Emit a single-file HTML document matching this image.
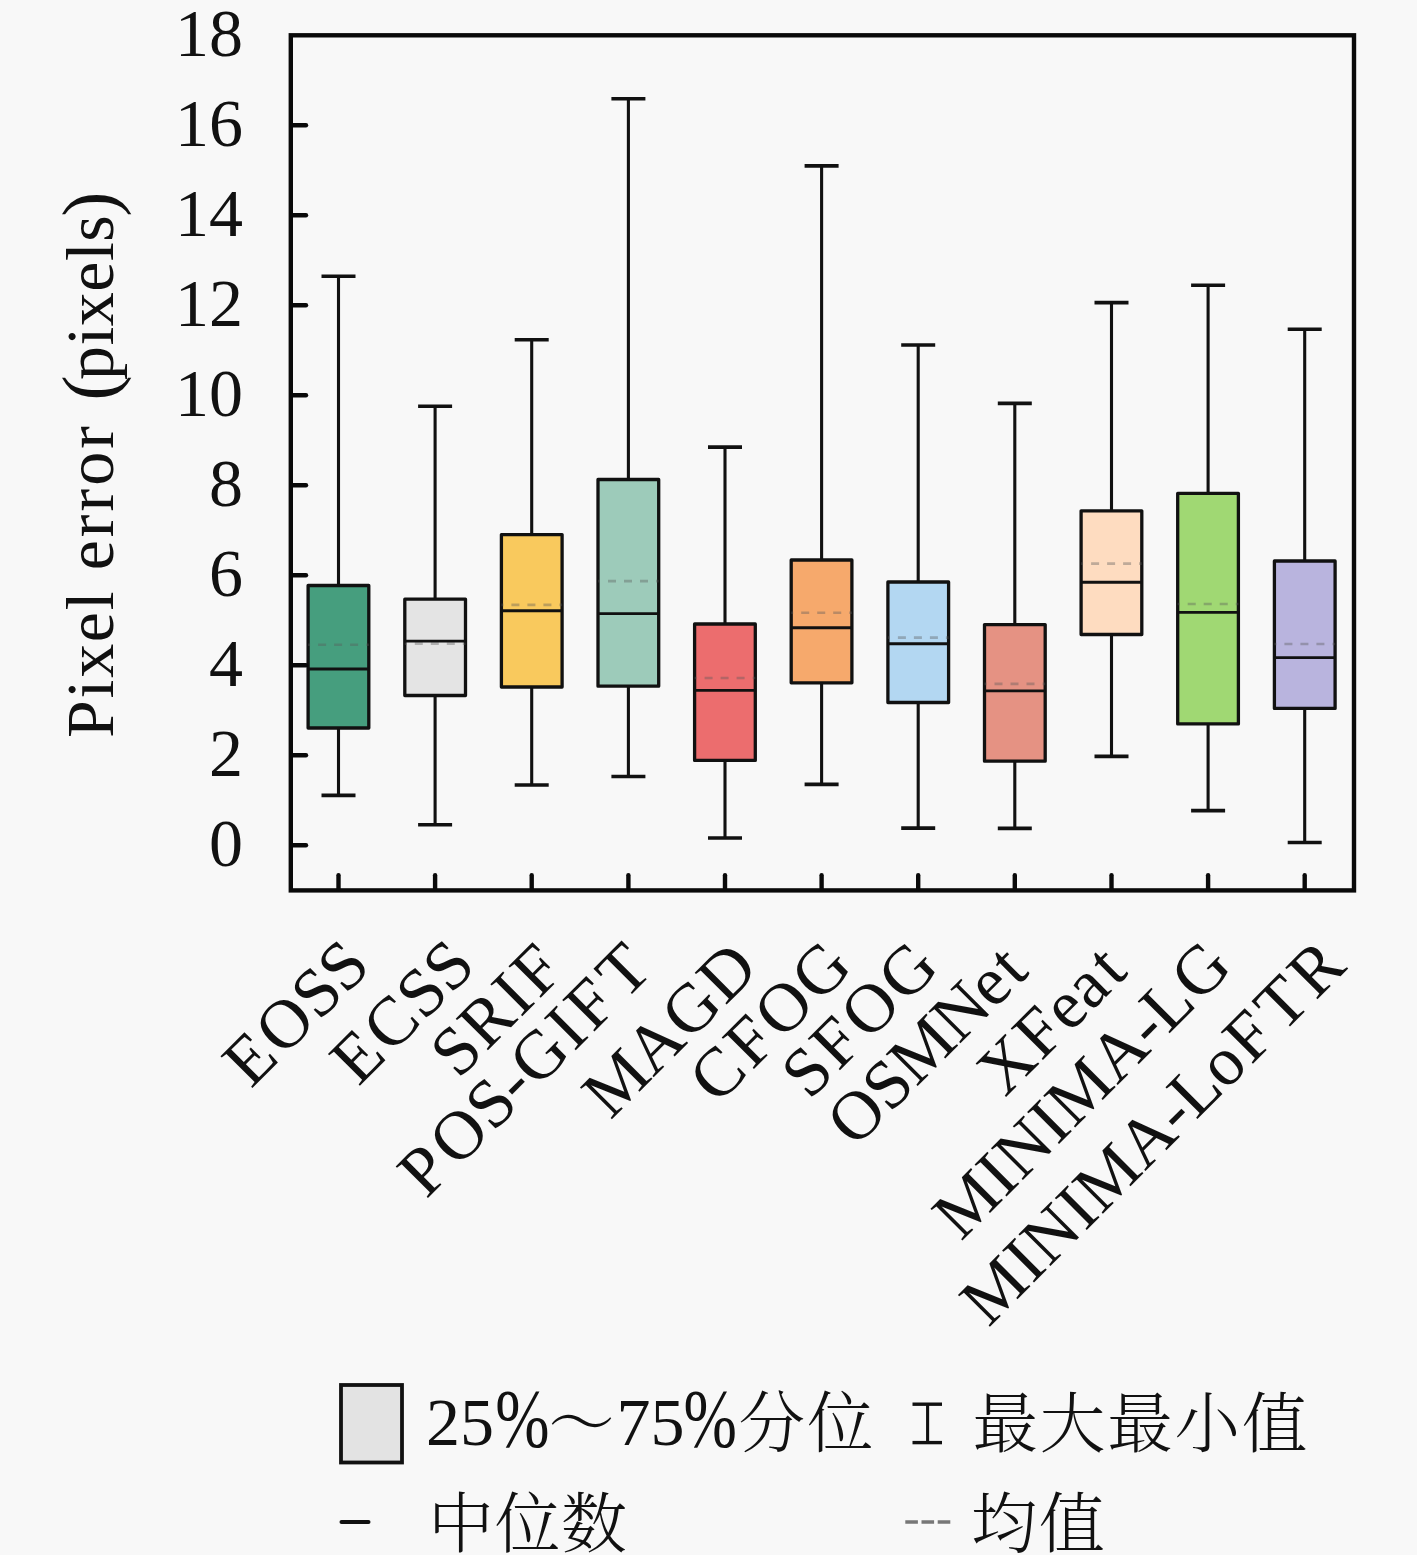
<!DOCTYPE html>
<html lang="zh"><head><meta charset="utf-8"><title>Pixel error box plot</title>
<style>
html,body{margin:0;padding:0;background:#f8f8f8;}
body{width:1417px;height:1555px;overflow:hidden;}
svg{display:block;}
text{font-family:"Liberation Serif","Noto Serif CJK SC",serif;fill:#111;}
.cjk{font-family:"Noto Serif CJK SC","Liberation Serif",serif;font-weight:300;}
</style></head><body>
<svg width="1417" height="1555" viewBox="0 0 1417 1555">
<rect x="0" y="0" width="1417" height="1555" fill="#f8f8f8"/>
<g>
<line x1="338.5" y1="276.3" x2="338.5" y2="585.5" stroke="#111" stroke-width="3.1"/>
<line x1="338.5" y1="728.0" x2="338.5" y2="795.4" stroke="#111" stroke-width="3.1"/>
<line x1="321.5" y1="276.3" x2="355.5" y2="276.3" stroke="#111" stroke-width="3.6"/>
<line x1="321.5" y1="795.4" x2="355.5" y2="795.4" stroke="#111" stroke-width="3.6"/>
<rect x="308.1" y="585.5" width="60.7" height="142.5" fill="#469e7e" stroke="#111" stroke-width="3.3" stroke-linejoin="round"/>
<line x1="308.1" y1="644.7" x2="368.8" y2="644.7" stroke="#5a5a5a" stroke-opacity="0.38" stroke-width="2.6" stroke-dasharray="8 8" stroke-dashoffset="-10"/>
<line x1="308.1" y1="669.0" x2="368.8" y2="669.0" stroke="#111" stroke-width="2.9"/>
</g>
<g>
<line x1="435.1" y1="406.2" x2="435.1" y2="599.2" stroke="#111" stroke-width="3.1"/>
<line x1="435.1" y1="695.5" x2="435.1" y2="824.7" stroke="#111" stroke-width="3.1"/>
<line x1="418.1" y1="406.2" x2="452.1" y2="406.2" stroke="#111" stroke-width="3.6"/>
<line x1="418.1" y1="824.7" x2="452.1" y2="824.7" stroke="#111" stroke-width="3.6"/>
<rect x="404.8" y="599.2" width="60.7" height="96.3" fill="#e4e4e4" stroke="#111" stroke-width="3.3" stroke-linejoin="round"/>
<line x1="404.8" y1="643.6" x2="465.5" y2="643.6" stroke="#5a5a5a" stroke-opacity="0.38" stroke-width="2.6" stroke-dasharray="8 8" stroke-dashoffset="-10"/>
<line x1="404.8" y1="641.1" x2="465.5" y2="641.1" stroke="#111" stroke-width="2.9"/>
</g>
<g>
<line x1="531.7" y1="339.8" x2="531.7" y2="534.6" stroke="#111" stroke-width="3.1"/>
<line x1="531.7" y1="687.0" x2="531.7" y2="785.0" stroke="#111" stroke-width="3.1"/>
<line x1="514.7" y1="339.8" x2="548.7" y2="339.8" stroke="#111" stroke-width="3.6"/>
<line x1="514.7" y1="785.0" x2="548.7" y2="785.0" stroke="#111" stroke-width="3.6"/>
<rect x="501.4" y="534.6" width="60.7" height="152.4" fill="#f9c95d" stroke="#111" stroke-width="3.3" stroke-linejoin="round"/>
<line x1="501.4" y1="604.9" x2="562.1" y2="604.9" stroke="#5a5a5a" stroke-opacity="0.38" stroke-width="2.6" stroke-dasharray="8 8" stroke-dashoffset="-10"/>
<line x1="501.4" y1="610.8" x2="562.1" y2="610.8" stroke="#111" stroke-width="2.9"/>
</g>
<g>
<line x1="628.4" y1="98.8" x2="628.4" y2="479.5" stroke="#111" stroke-width="3.1"/>
<line x1="628.4" y1="686.2" x2="628.4" y2="776.5" stroke="#111" stroke-width="3.1"/>
<line x1="611.4" y1="98.8" x2="645.4" y2="98.8" stroke="#111" stroke-width="3.6"/>
<line x1="611.4" y1="776.5" x2="645.4" y2="776.5" stroke="#111" stroke-width="3.6"/>
<rect x="598.0" y="479.5" width="60.7" height="206.7" fill="#9dcbba" stroke="#111" stroke-width="3.3" stroke-linejoin="round"/>
<line x1="598.0" y1="581.1" x2="658.7" y2="581.1" stroke="#5a5a5a" stroke-opacity="0.38" stroke-width="2.6" stroke-dasharray="8 8" stroke-dashoffset="-10"/>
<line x1="598.0" y1="613.6" x2="658.7" y2="613.6" stroke="#111" stroke-width="2.9"/>
</g>
<g>
<line x1="725.0" y1="447.1" x2="725.0" y2="624.0" stroke="#111" stroke-width="3.1"/>
<line x1="725.0" y1="760.4" x2="725.0" y2="838.0" stroke="#111" stroke-width="3.1"/>
<line x1="708.0" y1="447.1" x2="742.0" y2="447.1" stroke="#111" stroke-width="3.6"/>
<line x1="708.0" y1="838.0" x2="742.0" y2="838.0" stroke="#111" stroke-width="3.6"/>
<rect x="694.6" y="624.0" width="60.7" height="136.4" fill="#ec6d6e" stroke="#111" stroke-width="3.3" stroke-linejoin="round"/>
<line x1="694.6" y1="678.0" x2="755.3" y2="678.0" stroke="#5a5a5a" stroke-opacity="0.38" stroke-width="2.6" stroke-dasharray="8 8" stroke-dashoffset="-10"/>
<line x1="694.6" y1="690.4" x2="755.3" y2="690.4" stroke="#111" stroke-width="2.9"/>
</g>
<g>
<line x1="821.6" y1="165.9" x2="821.6" y2="560.0" stroke="#111" stroke-width="3.1"/>
<line x1="821.6" y1="682.8" x2="821.6" y2="784.4" stroke="#111" stroke-width="3.1"/>
<line x1="804.6" y1="165.9" x2="838.6" y2="165.9" stroke="#111" stroke-width="3.6"/>
<line x1="804.6" y1="784.4" x2="838.6" y2="784.4" stroke="#111" stroke-width="3.6"/>
<rect x="791.2" y="560.0" width="60.7" height="122.8" fill="#f6a96c" stroke="#111" stroke-width="3.3" stroke-linejoin="round"/>
<line x1="791.2" y1="612.8" x2="852.0" y2="612.8" stroke="#5a5a5a" stroke-opacity="0.38" stroke-width="2.6" stroke-dasharray="8 8" stroke-dashoffset="-10"/>
<line x1="791.2" y1="627.7" x2="852.0" y2="627.7" stroke="#111" stroke-width="2.9"/>
</g>
<g>
<line x1="918.2" y1="345.0" x2="918.2" y2="582.0" stroke="#111" stroke-width="3.1"/>
<line x1="918.2" y1="702.5" x2="918.2" y2="828.1" stroke="#111" stroke-width="3.1"/>
<line x1="901.2" y1="345.0" x2="935.2" y2="345.0" stroke="#111" stroke-width="3.6"/>
<line x1="901.2" y1="828.1" x2="935.2" y2="828.1" stroke="#111" stroke-width="3.6"/>
<rect x="887.9" y="582.0" width="60.7" height="120.5" fill="#b3d7f2" stroke="#111" stroke-width="3.3" stroke-linejoin="round"/>
<line x1="887.9" y1="637.6" x2="948.6" y2="637.6" stroke="#5a5a5a" stroke-opacity="0.38" stroke-width="2.6" stroke-dasharray="8 8" stroke-dashoffset="-10"/>
<line x1="887.9" y1="643.8" x2="948.6" y2="643.8" stroke="#111" stroke-width="2.9"/>
</g>
<g>
<line x1="1014.8" y1="403.4" x2="1014.8" y2="624.6" stroke="#111" stroke-width="3.1"/>
<line x1="1014.8" y1="761.2" x2="1014.8" y2="828.4" stroke="#111" stroke-width="3.1"/>
<line x1="997.8" y1="403.4" x2="1031.8" y2="403.4" stroke="#111" stroke-width="3.6"/>
<line x1="997.8" y1="828.4" x2="1031.8" y2="828.4" stroke="#111" stroke-width="3.6"/>
<rect x="984.5" y="624.6" width="60.7" height="136.6" fill="#e59283" stroke="#111" stroke-width="3.3" stroke-linejoin="round"/>
<line x1="984.5" y1="683.9" x2="1045.2" y2="683.9" stroke="#5a5a5a" stroke-opacity="0.38" stroke-width="2.6" stroke-dasharray="8 8" stroke-dashoffset="-10"/>
<line x1="984.5" y1="690.9" x2="1045.2" y2="690.9" stroke="#111" stroke-width="2.9"/>
</g>
<g>
<line x1="1111.5" y1="302.6" x2="1111.5" y2="510.8" stroke="#111" stroke-width="3.1"/>
<line x1="1111.5" y1="634.5" x2="1111.5" y2="756.4" stroke="#111" stroke-width="3.1"/>
<line x1="1094.5" y1="302.6" x2="1128.5" y2="302.6" stroke="#111" stroke-width="3.6"/>
<line x1="1094.5" y1="756.4" x2="1128.5" y2="756.4" stroke="#111" stroke-width="3.6"/>
<rect x="1081.1" y="510.8" width="60.7" height="123.7" fill="#fedcc0" stroke="#111" stroke-width="3.3" stroke-linejoin="round"/>
<line x1="1081.1" y1="563.6" x2="1141.8" y2="563.6" stroke="#5a5a5a" stroke-opacity="0.38" stroke-width="2.6" stroke-dasharray="8 8" stroke-dashoffset="-10"/>
<line x1="1081.1" y1="582.2" x2="1141.8" y2="582.2" stroke="#111" stroke-width="2.9"/>
</g>
<g>
<line x1="1208.1" y1="285.3" x2="1208.1" y2="493.3" stroke="#111" stroke-width="3.1"/>
<line x1="1208.1" y1="723.9" x2="1208.1" y2="810.6" stroke="#111" stroke-width="3.1"/>
<line x1="1191.1" y1="285.3" x2="1225.1" y2="285.3" stroke="#111" stroke-width="3.6"/>
<line x1="1191.1" y1="810.6" x2="1225.1" y2="810.6" stroke="#111" stroke-width="3.6"/>
<rect x="1177.7" y="493.3" width="60.7" height="230.6" fill="#a0d873" stroke="#111" stroke-width="3.3" stroke-linejoin="round"/>
<line x1="1177.7" y1="604.0" x2="1238.4" y2="604.0" stroke="#5a5a5a" stroke-opacity="0.38" stroke-width="2.6" stroke-dasharray="8 8" stroke-dashoffset="-10"/>
<line x1="1177.7" y1="612.4" x2="1238.4" y2="612.4" stroke="#111" stroke-width="2.9"/>
</g>
<g>
<line x1="1304.7" y1="329.3" x2="1304.7" y2="561.0" stroke="#111" stroke-width="3.1"/>
<line x1="1304.7" y1="708.4" x2="1304.7" y2="842.5" stroke="#111" stroke-width="3.1"/>
<line x1="1287.7" y1="329.3" x2="1321.7" y2="329.3" stroke="#111" stroke-width="3.6"/>
<line x1="1287.7" y1="842.5" x2="1321.7" y2="842.5" stroke="#111" stroke-width="3.6"/>
<rect x="1274.4" y="561.0" width="60.7" height="147.4" fill="#b9b4de" stroke="#111" stroke-width="3.3" stroke-linejoin="round"/>
<line x1="1274.4" y1="644.0" x2="1335.1" y2="644.0" stroke="#5a5a5a" stroke-opacity="0.38" stroke-width="2.6" stroke-dasharray="8 8" stroke-dashoffset="-10"/>
<line x1="1274.4" y1="657.6" x2="1335.1" y2="657.6" stroke="#111" stroke-width="2.9"/>
</g>
<rect x="290.8" y="35.3" width="1063.2" height="855.1" fill="none" stroke="#0a0a0a" stroke-width="4.4"/>
<line x1="292.5" y1="845.3" x2="306.0" y2="845.3" stroke="#0a0a0a" stroke-width="4.4" stroke-linecap="round"/>
<line x1="292.5" y1="755.3" x2="306.0" y2="755.3" stroke="#0a0a0a" stroke-width="4.4" stroke-linecap="round"/>
<line x1="292.5" y1="665.3" x2="306.0" y2="665.3" stroke="#0a0a0a" stroke-width="4.4" stroke-linecap="round"/>
<line x1="292.5" y1="575.3" x2="306.0" y2="575.3" stroke="#0a0a0a" stroke-width="4.4" stroke-linecap="round"/>
<line x1="292.5" y1="485.3" x2="306.0" y2="485.3" stroke="#0a0a0a" stroke-width="4.4" stroke-linecap="round"/>
<line x1="292.5" y1="395.3" x2="306.0" y2="395.3" stroke="#0a0a0a" stroke-width="4.4" stroke-linecap="round"/>
<line x1="292.5" y1="305.3" x2="306.0" y2="305.3" stroke="#0a0a0a" stroke-width="4.4" stroke-linecap="round"/>
<line x1="292.5" y1="215.3" x2="306.0" y2="215.3" stroke="#0a0a0a" stroke-width="4.4" stroke-linecap="round"/>
<line x1="292.5" y1="125.3" x2="306.0" y2="125.3" stroke="#0a0a0a" stroke-width="4.4" stroke-linecap="round"/>
<line x1="338.5" y1="888.7" x2="338.5" y2="875.2" stroke="#0a0a0a" stroke-width="4.4" stroke-linecap="round"/>
<line x1="435.1" y1="888.7" x2="435.1" y2="875.2" stroke="#0a0a0a" stroke-width="4.4" stroke-linecap="round"/>
<line x1="531.7" y1="888.7" x2="531.7" y2="875.2" stroke="#0a0a0a" stroke-width="4.4" stroke-linecap="round"/>
<line x1="628.4" y1="888.7" x2="628.4" y2="875.2" stroke="#0a0a0a" stroke-width="4.4" stroke-linecap="round"/>
<line x1="725.0" y1="888.7" x2="725.0" y2="875.2" stroke="#0a0a0a" stroke-width="4.4" stroke-linecap="round"/>
<line x1="821.6" y1="888.7" x2="821.6" y2="875.2" stroke="#0a0a0a" stroke-width="4.4" stroke-linecap="round"/>
<line x1="918.2" y1="888.7" x2="918.2" y2="875.2" stroke="#0a0a0a" stroke-width="4.4" stroke-linecap="round"/>
<line x1="1014.8" y1="888.7" x2="1014.8" y2="875.2" stroke="#0a0a0a" stroke-width="4.4" stroke-linecap="round"/>
<line x1="1111.5" y1="888.7" x2="1111.5" y2="875.2" stroke="#0a0a0a" stroke-width="4.4" stroke-linecap="round"/>
<line x1="1208.1" y1="888.7" x2="1208.1" y2="875.2" stroke="#0a0a0a" stroke-width="4.4" stroke-linecap="round"/>
<line x1="1304.7" y1="888.7" x2="1304.7" y2="875.2" stroke="#0a0a0a" stroke-width="4.4" stroke-linecap="round"/>
<text x="243" y="866.3" font-size="68" text-anchor="end">0</text>
<text x="243" y="776.3" font-size="68" text-anchor="end">2</text>
<text x="243" y="686.3" font-size="68" text-anchor="end">4</text>
<text x="243" y="596.3" font-size="68" text-anchor="end">6</text>
<text x="243" y="506.3" font-size="68" text-anchor="end">8</text>
<text x="243" y="416.3" font-size="68" text-anchor="end">10</text>
<text x="243" y="326.3" font-size="68" text-anchor="end">12</text>
<text x="243" y="236.3" font-size="68" text-anchor="end">14</text>
<text x="243" y="146.3" font-size="68" text-anchor="end">16</text>
<text x="243" y="56.3" font-size="68" text-anchor="end">18</text>
<text transform="translate(113,737.9) rotate(-90)" font-size="68" textLength="146.5" lengthAdjust="spacing">Pixel</text>
<text transform="translate(113,570.3) rotate(-90)" font-size="68" textLength="144.1" lengthAdjust="spacing">error</text>
<text transform="translate(113,379.9) rotate(-90)" font-size="68" textLength="164.6" lengthAdjust="spacing">pixels</text>
<text transform="translate(115.1,400.4) rotate(-90)" font-size="75.3">(</text>
<text transform="translate(114.8,216.8) rotate(-90)" font-size="75.3">)</text>
<text transform="translate(249.7,1090.9) rotate(-45)" font-size="69" x="1.9 47.2 97.9 135.4">EOSS</text>
<text transform="translate(357.1,1088.7) rotate(-45)" font-size="69" x="2.0 47.6 94.7 132.4">ECSS</text>
<text transform="translate(458.8,1079.6) rotate(-45)" font-size="69" x="-0.6 38.9 87.2 113.4">SRIF</text>
<text transform="translate(423.6,1202.4) rotate(-45)" font-size="69" x="3.9 47.5 98.4 136.2 160.6 212.8 239.4 284.0">POS-GIFT</text>
<text transform="translate(610.8,1120.4) rotate(-45)" font-size="69" x="-0.5 60.2 110.8 161.9">MAGD</text>
<text transform="translate(716.5,1106.5) rotate(-45)" font-size="69" x="1.1 50.7 92.7 144.8">CFOG</text>
<text transform="translate(809.7,1100.6) rotate(-45)" font-size="69" x="-0.4 40.5 83.2 136.0">SFOG</text>
<text transform="translate(854.6,1149.2) rotate(-45)" font-size="69" x="0.6 50.2 87.1 147.6 196.4 229.5">OSMNet</text>
<text transform="translate(1005.2,1097.8) rotate(-45)" font-size="69" x="-0.4 51.1 90.8 121.6 156.3">XFeat</text>
<text transform="translate(961.0,1241.9) rotate(-45)" font-size="69" x="-0.0 61.9 85.6 136.1 159.6 221.1 270.7 293.1 336.4">MINIMA-LG</text>
<text transform="translate(988.5,1328.2) rotate(-45)" font-size="69" x="0.0 62.0 85.7 136.3 159.9 221.5 271.1 293.6 335.1 371.7 415.9 462.7">MINIMA-LoFTR</text>
<rect x="341" y="1385" width="61" height="77.5" fill="#e3e3e3" stroke="#111" stroke-width="3.8"/>
<text x="425.9" y="1444.8" font-size="68">25</text>
<text transform="translate(495.3,1446) scale(0.958,1.2)" font-size="68">%</text>
<text class="cjk" x="548.5" y="1445.5" font-size="66">～</text>
<text x="616.6" y="1444.8" font-size="68">75</text>
<text transform="translate(683.5,1446) scale(0.943,1.2)" font-size="68">%</text>
<text class="cjk" x="738.5" y="1446.5" font-size="66.5" textLength="135" lengthAdjust="spacing">分位</text>
<g stroke="#111"><line x1="927.6" y1="1404" x2="927.6" y2="1443" stroke-width="3.1"/><line x1="912.5" y1="1404.2" x2="942" y2="1404.2" stroke-width="3.4"/><line x1="912.5" y1="1442.6" x2="942" y2="1442.6" stroke-width="3.4"/></g>
<text class="cjk" x="972.5" y="1446.5" font-size="65.5" textLength="335" lengthAdjust="spacing">最大最小值</text>
<line x1="341.5" y1="1522" x2="368.5" y2="1522" stroke="#111" stroke-width="4" stroke-linecap="round"/>
<text class="cjk" x="428" y="1547" font-size="66" textLength="199" lengthAdjust="spacing">中位数</text>
<line x1="905.3" y1="1522" x2="951" y2="1522" stroke="#777" stroke-width="3.6" stroke-dasharray="12.6 3.6"/>
<text class="cjk" x="971" y="1547" font-size="66" textLength="134" lengthAdjust="spacing">均值</text>
</svg></body></html>
